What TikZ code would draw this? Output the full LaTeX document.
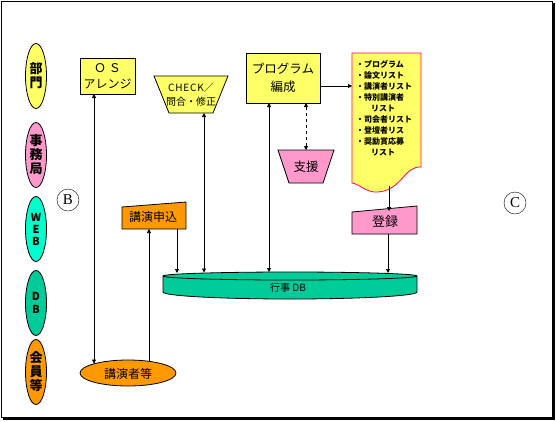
\documentclass[tikz,border=0pt]{standalone}
\usepackage{fontspec}
\setmainfont{Noto Sans CJK JP}
\newfontfamily\serifB{Liberation Serif}
\usetikzlibrary{arrows.meta,shapes.geometric}
\definecolor{cyel}{HTML}{FFFF66}
\definecolor{cpink}{HTML}{FF99CC}
\definecolor{caqua}{HTML}{00FFCC}
\definecolor{cteal}{HTML}{00CC99}
\definecolor{corng}{HTML}{FF9900}
\definecolor{cmag}{HTML}{FF0066}
\tikzset{
  shp/.style={draw=black,line width=0.8pt},
  lab/.style={font=\bfseries\fontsize{13}{13}\selectfont,align=center,inner sep=0pt},
  side/.style={shp,ellipse,minimum width=21pt,minimum height=65pt,inner sep=0pt},
  conn/.style={line width=0.7pt,-{Triangle[length=4pt,width=4pt]}},
  bconn/.style={line width=0.7pt,{Triangle[length=4pt,width=4pt]}-{Triangle[length=4pt,width=4pt]}},
  txt/.style={inner sep=0pt,align=center},
  circ/.style={draw,circle,minimum size=22pt,inner sep=0pt,font=\serifB\fontsize{15}{15}\selectfont}
}
\begin{document}
\begin{tikzpicture}[x=1pt,y=-1pt]
\useasboundingbox (0,0) rectangle (556,421);
% frame
\draw[line width=1pt] (1.5,1.5) rectangle (552,417);
\fill (552,3) rectangle (555,420);
\fill (3,417) rectangle (555,420);
% left labels
\node[side,fill=cyel] (bumon) at (36,76) {};
\node[lab] at (bumon) {部\\[1pt]門};
\node[side,fill=cpink] (jimu) at (36,155) {};
\node[lab,font=\bfseries\fontsize{13}{14}\selectfont] at (jimu) {事\\務\\局};
\node[side,fill=caqua] (web) at (36,229) {};
\node[lab,font=\bfseries\fontsize{11}{12}\selectfont] at (web) {W\\E\\B};
\node[side,fill=cteal] (db) at (36,303) {};
\node[lab,font=\bfseries\fontsize{11}{13}\selectfont] at (db) {D\\B};
\node[side,fill=corng] (kaiin) at (36,372) {};
\node[lab,font=\bfseries\fontsize{13}{14}\selectfont] at (kaiin) {会\\員\\等};
% circles
\node[circ] (cB) at (68,200) {B};
\node[circ] (cC) at (515,203) {C};
% OS arrange
\draw[shp,fill=cyel] (80,58) rectangle (135,94);
\node[txt,font=\fontsize{12}{16}\selectfont] (os) at (107.5,76) {Ｏ Ｓ\\アレンジ};
\coordinate (osb) at (94,94);
% CHECK
\draw[shp,fill=cyel] (154,76) -- (228,76) -- (213,113) -- (169,113) -- cycle;
\node[txt,font=\fontsize{10}{14}\selectfont] (chk) at (191,95) {{\addfontfeature{LetterSpace=8}CHECK}／\\問合・修正};
\coordinate (chkb) at (204,113);
% program
\draw[shp,fill=cyel] (246,53) rectangle (320,103);
\node[txt,font=\fontsize{12.5}{18}\selectfont] (prog) at (283,78) {プログラム\\編成};
\coordinate (progr) at (320,86);
\coordinate (progb1) at (269,103);
\coordinate (progb2) at (306,103);
% support
\draw[shp,fill=cpink] (278,150) -- (334,150) -- (323,183) -- (289,183) -- cycle;
\node[txt,font=\fontsize{12.5}{14}\selectfont] (shien) at (306,167) {支援};
\coordinate (shient) at (306,150);
% document
\draw[draw=cmag,line width=0.8pt,fill=cyel] (352,53) -- (421,53) -- (421,167)
  .. controls (404,166) and (402,190) .. (378,192)
  .. controls (366,193) and (360,184) .. (352,183) -- cycle;
\coordinate (docl) at (352,86);
\coordinate (docb) at (389,186);
\node[txt,anchor=north west,align=left,font=\bfseries\fontsize{8}{11}\selectfont] (list) at (356,60.5)
 {・プログラム\\・論文リスト\\・講演者リスト\\・特別講演者\\\hspace{15pt}リスト\\・司会者リスト\\・登壇者リス\\・奨励賞応募\\\hspace{15pt}リスト};
% touroku
\draw[shp,fill=cpink] (352,212) -- (417,206) -- (417,234) -- (352,234) -- cycle;
\node[txt,font=\fontsize{13}{14}\selectfont] (touroku) at (385,222) {登録};
\coordinate (tourokut) at (389,211);
\coordinate (tourokub) at (388,234);
% kouen moushikomi
\draw[shp,fill=corng] (122,207) -- (186,202) -- (186,229) -- (122,229) -- cycle;
\node[txt,font=\fontsize{12}{14}\selectfont] (moushi) at (153,217) {講演申込};
\coordinate (moushib1) at (149,229);
\coordinate (moushib2) at (177,229);
% event DB cylinder
\draw[shp,fill=cteal] (163,276) -- (163,292) arc[start angle=180,end angle=0,x radius=127,y radius=7] -- (417,276)
  arc[start angle=0,end angle=-180,x radius=127,y radius=4] -- cycle;
\draw[shp] (163,276) arc[start angle=180,end angle=0,x radius=127,y radius=4];
\node[txt,font=\fontsize{10}{12}\selectfont] (gyouji) at (288,288) {行事 DB};
\coordinate (dbt1) at (177,273);
\coordinate (dbt2) at (204,272.5);
\coordinate (dbt3) at (269,272);
\coordinate (dbt4) at (388,273);
% speakers ellipse
\draw[shp,fill=corng] (128,373) ellipse[x radius=48,y radius=13];
\node[txt,font=\fontsize{12}{14}\selectfont] (kouensha) at (128,374) {講演者等};
\coordinate (spk1) at (94,363.5);
\coordinate (spk2) at (149,361.5);
% connectors
\draw[bconn] (osb) -- (spk1);
\draw[conn] (spk2) -- (moushib1);
\draw[conn] (moushib2) -- (dbt1);
\draw[bconn] (chkb) -- (dbt2);
\draw[bconn] (progb1) -- (dbt3);
\draw[bconn,dashed] (progb2) -- (shient);
\draw[conn] (progr) -- (docl);
\draw[conn] (docb) -- (tourokut);
\draw[conn] (tourokub) -- (dbt4);
\end{tikzpicture}
\end{document}
